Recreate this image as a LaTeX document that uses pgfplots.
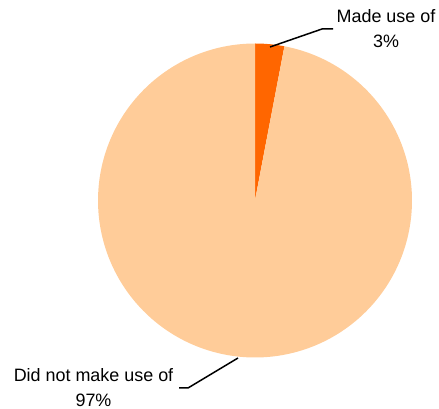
\documentclass[border=0pt]{standalone}
\usepackage{fontspec}
\setmainfont{Liberation Sans}
\usepackage{pgfplots}
\usepackage{pgfplotstable}
\pgfplotsset{compat=1.18}
\definecolor{lightor}{HTML}{FFCC99}
\definecolor{darkor}{HTML}{FF6600}
\pgfplotstableread{
label value
used 3
notused 97
}\piedata
\pgfplotstablegetelem{0}{value}\of\piedata \let\vA\pgfplotsretval
\pgfplotstablegetelem{1}{value}\of\piedata \let\vB\pgfplotsretval
\pgfmathsetmacro{\aA}{90-3.6*\vA}
\pgfmathsetmacro{\aB}{\aA-3.6*\vB}
\begin{document}
\begin{tikzpicture}
\begin{axis}[width=439bp,height=409bp,scale only axis,hide axis,
  xmin=0,xmax=439,ymin=0,ymax=409,clip=false]
\path (rel axis cs:0,0) rectangle (rel axis cs:1,1);
\addplot[draw=none, fill=darkor, domain=\aA:90, samples=20, variable=\t]
  ({255+157*cos(\t)},{208.5+157*sin(\t)}) -- (axis cs:255,208.5) -- cycle;
\addplot[draw=none, fill=lightor, domain=\aB:\aA, samples=240, variable=\t]
  ({255+157*cos(\t)},{208.5+157*sin(\t)}) -- (axis cs:255,208.5) -- cycle;
\addplot[black, line width=1.5bp, mark=none] coordinates {(270,362) (322,380) (333,380)};
\addplot[black, line width=1.5bp, mark=none] coordinates {(238,51) (188,21) (179,21)};
\node[align=center, font=\fontsize{18}{25}\selectfont, inner sep=0pt] at (axis cs:386,380) {Made use of\\3\%};
\node[align=center, font=\fontsize{18}{25}\selectfont, inner sep=0pt] at (axis cs:93.5,21.5) {Did not make use of\\97\%};
\end{axis}
\end{tikzpicture}
\end{document}
